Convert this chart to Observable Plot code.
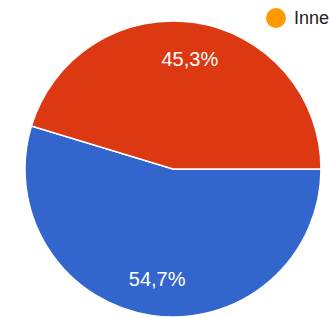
<!DOCTYPE html>
<html>
<head>
<meta charset="utf-8">
<script src="https://cdn.jsdelivr.net/npm/d3@7"></script>
<script src="https://cdn.jsdelivr.net/npm/@observablehq/plot@0.6"></script>
<style>
  html, body { margin: 0; padding: 0; background: #fff; overflow: hidden; width: 331px; height: 318px; }
  #wrap { position: relative; width: 331px; height: 318px; overflow: hidden; }
  #legend { position: absolute; left: 266px; top: 8px; height: 20px; display: flex; align-items: center; white-space: nowrap;
            font-family: Arial, "Liberation Sans", sans-serif; font-size: 18px; line-height: 20px; color: #222; }
  #legend .sw { width: 20px; height: 20px; border-radius: 50%; background: #FF9900; margin-right: 8px; flex: none; }
</style>
</head>
<body>
<div id="wrap">
  <div id="chart"></div>
  <div id="legend"><span class="sw"></span><span id="legtext"></span></div>
</div>
<script>
// Data
const categories = ["Seria 1", "Seria 2", "Inne"];
const values = [54.7, 45.3, 0];
const colors = ["#3366CC", "#DC3912", "#FF9900"];
const legendLabels = ["Inne"];

const rows = categories.map((c, i) => ({category: c, value: values[i], color: colors[i]}));
const pie = d3.pie().sort(null).value(d => d.value)
  .startAngle(Math.PI / 2).endAngle(Math.PI / 2 + 2 * Math.PI);
const arcs = pie(rows).filter(a => a.data.value > 0);
const labels = arcs.map(a => {
  const mid = (a.startAngle + a.endAngle) / 2;
  return {x: 0.75 * Math.sin(mid), y: 0.75 * Math.cos(mid), text: a.data.value.toFixed(1).replace(".", ",") + "%"};
});

function pieMark(index, scales, values, dimensions, context) {
  const cx = scales.x(0), cy = scales.y(0);
  const r = scales.x(1) - scales.x(0);
  const g = d3.create("svg:g").attr("transform", `translate(${cx},${cy})`);
  const arc = d3.arc().innerRadius(0).outerRadius(r);
  g.selectAll("path").data(arcs).join("path")
    .attr("d", arc)
    .attr("fill", d => d.data.color)
    .attr("stroke", "#fff")
    .attr("stroke-width", 1.5);
  return g.node();
}

const plot = Plot.plot({
  width: 331,
  height: 318,
  marginLeft: 25,
  marginRight: 10,
  marginTop: 21,
  marginBottom: 1,
  x: {domain: [-1, 1], axis: null},
  y: {domain: [-1, 1], axis: null},
  style: {background: "#fff", overflow: "visible"},
  marks: [
    pieMark,
    Plot.text(labels, {x: "x", y: "y", text: "text", fill: "#fff", fontSize: 20,
      fontFamily: "Arial, 'Liberation Sans', sans-serif"})
  ]
});
document.getElementById("chart").appendChild(plot);
document.getElementById("legtext").textContent = legendLabels[0];
</script>
</body>
</html>
